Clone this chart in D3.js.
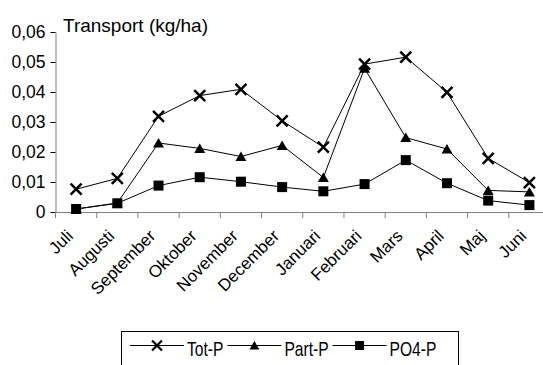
<!DOCTYPE html>
<html>
<head>
<meta charset="utf-8">
<script src="https://cdnjs.cloudflare.com/ajax/libs/d3/7.8.5/d3.min.js"></script>
<style>
  html, body { margin: 0; padding: 0; background: #fff; }
  svg { display: block; font-family: "Liberation Sans", Arial, sans-serif; }
</style>
</head>
<body>
<div id="chart"></div>
<script>
// Categories (hydrological year, July - June)
var months = ["Juli", "Augusti", "September", "Oktober", "November", "December",
    "Januari", "Februari", "Mars", "April", "Maj", "Juni"];

// Series values, kg/ha
var totP = [0.0076, 0.0112, 0.0319, 0.0388, 0.0409, 0.0304, 0.0216, 0.0493, 0.0516, 0.0399, 0.0179, 0.0098];
var partP = [0.0010, 0.0030, 0.0230, 0.0212, 0.0185, 0.0222, 0.0115, 0.0479, 0.0248, 0.0210, 0.0072, 0.0067];
var po4P = [0.0010, 0.0029, 0.0088, 0.0116, 0.0101, 0.0083, 0.0069, 0.0093, 0.0173, 0.0096, 0.0038, 0.0023];

// Tick labels
var yTicks = [0, 0.01, 0.02, 0.03, 0.04, 0.05, 0.06];
var yTickLabels = ["0", "0,01", "0,02", "0,03", "0,04", "0,05", "0,06"];

var seriesNames = ["Tot-P", "Part-P", "PO4-P"];
var seriesValues = [totP, partP, po4P];
var seriesMarkers = ["cross", "triangle", "square"];

var width = 543,
    height = 365;

var svg = d3.select("#chart")
    .append("svg")
    .attr("width", width)
    .attr("height", height);

svg.append("rect")
    .attr("width", width)
    .attr("height", height)
    .attr("fill", "#fff");

// scales - the category axis runs past the right edge of the picture
var x = d3.scaleBand().domain(months).range([55.5, 550]);
var y = d3.scaleLinear().domain([0, 0.06]).range([212, 32]);

// y axis
var yAxis = svg.append("g")
    .attr("transform", "translate(55.5,0)")
    .call(d3.axisLeft(y)
        .tickValues(yTicks)
        .tickFormat(function(d, i) { return yTickLabels[i]; })
        .tickSize(5)
        .tickSizeOuter(0)
        .tickPadding(5));

yAxis.selectAll("text")
    .attr("fill", "#000")
    .style("font-size", "17.5px");

// x axis (ticks between categories, drawn below)
var xAxis = svg.append("g")
    .attr("transform", "translate(0," + y(0) + ")")
    .call(d3.axisBottom(x).tickSize(0).tickSizeOuter(0).tickFormat(""));

xAxis.selectAll(".tick").remove();

var bounds = months.map(function(m) { return x(m); }).concat([x.range()[1]]);
svg.append("g")
    .selectAll("line")
    .data(bounds)
    .enter()
    .append("line")
    .attr("x1", function(d) { return d; })
    .attr("x2", function(d) { return d; })
    .attr("y1", y(0))
    .attr("y2", y(0) + 6)
    .attr("stroke", "#808080");

svg.selectAll(".domain").attr("stroke", "#808080");

// rotated month labels
svg.append("g")
    .selectAll("text")
    .data(months)
    .enter()
    .append("text")
    .attr("transform", function(d) {
        return "translate(" + (x(d) + x.bandwidth() / 2 - 2) + ",237) rotate(-45)";
    })
    .attr("text-anchor", "end")
    .style("font-size", "17px")
    .text(function(d) { return d; });

// title
svg.append("text")
    .attr("x", 63)
    .attr("y", 31.5)
    .style("font-size", "19px")
    .text("Transport (kg/ha)");

// marker shapes
function drawMarker(g, type) {
    if (type === "cross") {
        g.append("path")
            .attr("d", "M-5.5,-5.5L5.5,5.5M-5.5,5.5L5.5,-5.5")
            .attr("stroke", "#000")
            .attr("stroke-width", 2.5)
            .attr("fill", "none");
    } else if (type === "triangle") {
        g.append("path")
            .attr("d", "M0,-5L5.5,4.5L-5.5,4.5Z")
            .attr("fill", "#000");
    } else {
        g.append("rect")
            .attr("x", -5)
            .attr("y", -5)
            .attr("width", 10)
            .attr("height", 10)
            .attr("fill", "#000");
    }
}

var line = d3.line()
    .x(function(d, i) { return x(months[i]) + x.bandwidth() / 2; })
    .y(function(d) { return y(d); });

// series, drawn in order so later ones sit on top
seriesValues.forEach(function(vals, s) {
    var g = svg.append("g");
    g.append("path")
        .datum(vals)
        .attr("d", line)
        .attr("fill", "none")
        .attr("stroke", "#000")
        .attr("stroke-width", 1);

    g.selectAll("g.pt")
        .data(vals)
        .enter()
        .append("g")
        .attr("class", "pt")
        .attr("transform", function(d, i) {
            return "translate(" + (x(months[i]) + x.bandwidth() / 2) + "," + y(d) + ")";
        })
        .each(function() { drawMarker(d3.select(this), seriesMarkers[s]); });
});

// legend (bottom edge is cut off by the picture)
var legend = svg.append("g");
legend.append("rect")
    .attr("x", 121.5)
    .attr("y", 331.5)
    .attr("width", 337)
    .attr("height", 60)
    .attr("fill", "#fff")
    .attr("stroke", "#000");

var cursor = 130;
seriesNames.forEach(function(name, s) {
    var item = legend.append("g");
    item.append("line")
        .attr("x1", cursor)
        .attr("x2", cursor + 54)
        .attr("y1", 345.5)
        .attr("y2", 345.5)
        .attr("stroke", "#000");
    var m = item.append("g")
        .attr("transform", "translate(" + (cursor + 27) + ",345.5) scale(0.9)");
    drawMarker(m, seriesMarkers[s]);

    var t = item.append("text")
        .attr("transform", "translate(" + (cursor + 57) + ",356) scale(0.78,1)")
        .style("font-size", "20px")
        .text(name);
    cursor += 57 + t.node().getComputedTextLength() * 0.78 + 4;
});
</script>
</body>
</html>
